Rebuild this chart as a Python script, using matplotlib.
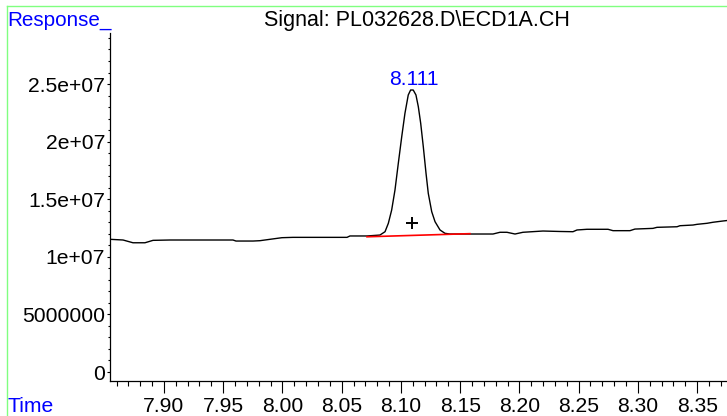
import matplotlib
matplotlib.use("Agg")
import matplotlib.pyplot as plt
from matplotlib.ticker import FixedLocator, MultipleLocator
from matplotlib.lines import Line2D

plt.rcParams['font.family'] = ['Liberation Sans', 'DejaVu Sans']

# ---- data ----
time = [7.8545, 7.8655, 7.8739, 7.8840, 7.8908, 7.9051, 7.9305, 7.9583, 7.9608,
        7.9752, 7.9810, 7.9895, 7.9996, 8.0089, 8.0545, 8.0570, 8.0714,
        8.0823, 8.0866, 8.0894, 8.0922, 8.0950, 8.0978, 8.1007, 8.1034, 8.1062,
        8.1082, 8.1104, 8.1127, 8.1147, 8.1167, 8.1189, 8.1212, 8.1231, 8.1260,
        8.1288, 8.1330, 8.1372, 8.1414, 8.1600, 8.1777, 8.1836, 8.1895,
        8.1963, 8.2030, 8.2199, 8.2342, 8.2452, 8.2486, 8.2570, 8.2748, 8.2790,
        8.2933, 8.2975, 8.3127, 8.3161, 8.3330, 8.3355, 8.3465, 8.3499, 8.3583,
        8.3634, 8.3718, 8.3752]
response = [11.52e6, 11.46e6, 11.22e6, 11.22e6, 11.43e6, 11.46e6, 11.46e6, 11.46e6, 11.37e6,
            11.37e6, 11.40e6, 11.52e6, 11.66e6, 11.69e6, 11.69e6, 11.81e6, 11.81e6,
            11.89e6, 12.18e6, 12.91e6, 14.06e6, 15.80e6, 18.11e6, 20.43e6, 22.45e6, 24.05e6,
            24.48e6, 24.48e6, 24.05e6, 23.03e6, 21.59e6, 19.56e6, 17.25e6, 15.51e6, 13.92e6,
            13.05e6, 12.33e6, 12.04e6, 11.98e6, 11.98e6, 11.98e6, 12.13e6, 12.13e6,
            11.98e6, 12.13e6, 12.24e6, 12.20e6, 12.18e6, 12.33e6, 12.39e6, 12.39e6, 12.27e6,
            12.27e6, 12.41e6, 12.47e6, 12.56e6, 12.61e6, 12.70e6, 12.76e6, 12.82e6, 12.91e6,
            13.00e6, 13.11e6, 13.15e6]

baseline_time = [8.0714, 8.1583]
baseline_resp = [11.74e6, 12.01e6]

peak_label = "8.111"
peak_time = 8.111
peak_apex = 24.48e6
peak_marker = (8.1091, 12.91e6)

x_ticks = [7.90, 7.95, 8.00, 8.05, 8.10, 8.15, 8.20, 8.25, 8.30, 8.35]
x_ticklabels = ["7.90", "7.95", "8.00", "8.05", "8.10", "8.15", "8.20", "8.25", "8.30", "8.35"]
y_ticks = [0, 5e6, 1e7, 1.5e7, 2e7, 2.5e7]
y_ticklabels = ["0", "5000000", "1e+07", "1.5e+07", "2e+07", "2.5e+07"]

title = "Signal: PL032628.D\\ECD1A.CH"
y_title = "Response_"
x_title = "Time"

# ---- figure ----
W, H = 727, 416
FS = 15.2
fig = plt.figure(figsize=(W / 100, H / 100), dpi=100)
ax = fig.add_axes([110 / W, 1 - 381 / H, 1 - 110 / W, (381 - 33) / H])

ax.plot(time, response, color='black', lw=1.0, solid_joinstyle='round')
ax.plot(baseline_time, baseline_resp, color='#ff0000', lw=1.2)
ax.plot([peak_marker[0]], [peak_marker[1]], marker='+', color='black',
        markersize=8, markeredgewidth=1.4, linestyle='none')
ax.annotate(peak_label, xy=(peak_time, peak_apex), xytext=(0, 5),
            textcoords='offset pixels', ha='center', va='baseline',
            color='#0000ff', fontsize=FS)

ax.set_xlim(7.8545, 8.3752)
ax.set_ylim(-0.78e6, 29.43e6)

ax.xaxis.set_major_locator(FixedLocator(x_ticks))
ax.set_xticklabels(x_ticklabels)
ax.xaxis.set_minor_locator(MultipleLocator(0.01))
ax.yaxis.set_major_locator(FixedLocator(y_ticks))
ax.set_yticklabels(y_ticklabels)
ax.yaxis.set_minor_locator(MultipleLocator(1e6))

ax.tick_params(axis='x', which='major', length=8.5, width=0.8, direction='out',
               pad=3, labelsize=FS, colors='black')
ax.tick_params(axis='x', which='minor', length=3.6, width=0.8, direction='out')
ax.tick_params(axis='y', which='major', length=2.5, width=0.8, direction='out',
               pad=1, labelsize=FS)
ax.tick_params(axis='y', which='minor', length=1.5, width=0.8, direction='out')

for s in ['top', 'right']:
    ax.spines[s].set_visible(False)
for s in ['left', 'bottom']:
    ax.spines[s].set_linewidth(0.9)
    ax.spines[s].set_color('black')

# texts
fig.text(7 / W, 1 - 26 / H, y_title, color='#0000ff', fontsize=FS - 0.3,
         ha='left', va='baseline')
fig.text(416.5 / W, 1 - 26 / H, title, color='black', fontsize=FS + 0.3,
         ha='center', va='baseline')
fig.text(8 / W, 1 - 412.5 / H, x_title, color='#0000ff', fontsize=FS,
         ha='left', va='baseline')

# green frame
green = '#80ff80'
fig.add_artist(Line2D([6.5 / W, 6.5 / W], [0, 1 - 5.5 / H], color=green, lw=1.0,
                      transform=fig.transFigure))
fig.add_artist(Line2D([6.5 / W, 1], [1 - 5.5 / H, 1 - 5.5 / H], color=green, lw=1.0,
                      transform=fig.transFigure))

fig.savefig("out.png", dpi=100)
